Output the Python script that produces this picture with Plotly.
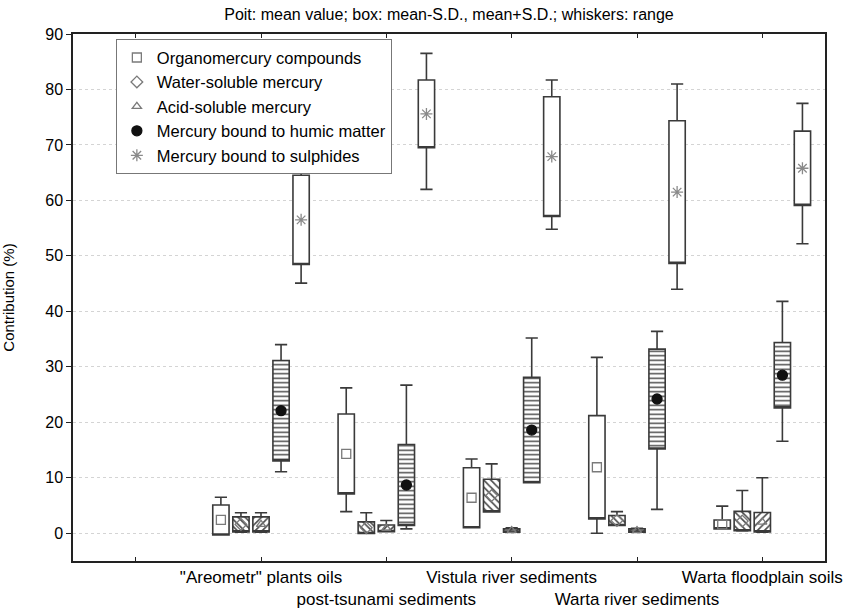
import plotly.graph_objects as go

categories = ['"Areometr" plants oils', 'post-tsunami sediments', 'Vistula river sediments',
              'Warta river sediments', 'Warta floodplain soils']
series_names = ['Organomercury compounds', 'Water-soluble mercury', 'Acid-soluble mercury',
                'Mercury bound to humic matter', 'Mercury bound to sulphides']

# mean, standard deviation, min, max (%) per category
organo_mean = [2.4, 14.3, 6.4, 11.9, 1.6]
organo_sd = [2.7, 7.2, 5.4, 9.3, 0.8]
organo_min = [0.0, 3.9, 1.0, 0.0, 0.8]
organo_max = [6.5, 26.2, 13.4, 31.7, 4.9]

water_mean = [1.6, 1.0, 6.8, 2.3, 2.2]
water_sd = [1.35, 1.05, 2.95, 0.9, 1.75]
water_min = [0.2, 0.0, 3.9, 1.4, 0.4]
water_max = [3.7, 3.7, 12.5, 3.9, 7.7]

acid_mean = [1.6, 0.9, 0.5, 0.5, 2.0]
acid_sd = [1.35, 0.6, 0.3, 0.3, 1.75]
acid_min = [0.2, 0.3, 0.2, 0.2, 0.2]
acid_max = [3.7, 2.3, 1.0, 0.9, 10.0]

humic_mean = [22.1, 8.7, 18.6, 24.2, 28.5]
humic_sd = [9.05, 7.3, 9.5, 9.0, 5.9]
humic_min = [11.1, 0.8, 9.1, 4.3, 16.6]
humic_max = [34.0, 26.7, 35.2, 36.4, 41.8]

sulph_mean = [56.5, 75.6, 67.9, 61.5, 65.8]
sulph_sd = [8.05, 6.1, 10.8, 12.85, 6.7]
sulph_min = [45.1, 62.0, 54.8, 44.0, 52.2]
sulph_max = [66.7, 86.5, 81.7, 81.0, 77.5]

y_ticks = [0, 10, 20, 30, 40, 50, 60, 70, 80, 90]

stats = [
    (organo_mean, organo_sd, organo_min, organo_max),
    (water_mean, water_sd, water_min, water_max),
    (acid_mean, acid_sd, acid_min, acid_max),
    (humic_mean, humic_sd, humic_min, humic_max),
    (sulph_mean, sulph_sd, sulph_min, sulph_max),
]

styles = [
    dict(symbol='square-open', color='#7a7a7a', size=9, pattern=None),
    dict(symbol='diamond-open', color='#7a7a7a', size=9, pattern='\\'),
    dict(symbol='triangle-up-open', color='#7a7a7a', size=8, pattern='/'),
    dict(symbol='circle', color='#111111', size=10, pattern='-'),
    dict(symbol='asterisk-open', color='#8a8a8a', size=10, pattern=None),
]

offsets = [-0.32, -0.16, 0.0, 0.16, 0.32]
box_w = 0.13
line_col = '#3a3a3a'

fig = go.Figure()

# hatched fills (under the box outlines)
for k, (mean, sd, mn, mx) in enumerate(stats):
    st = styles[k]
    if st['pattern'] is None:
        continue
    xs = [i + 1 + offsets[k] for i in range(len(categories))]
    fig.add_trace(go.Bar(
        x=xs, base=[m - s for m, s in zip(mean, sd)], y=[2 * s for s in sd],
        width=box_w, showlegend=False, hoverinfo='skip',
        marker=dict(color='white', line=dict(width=0),
                    pattern=dict(shape=st['pattern'], fgcolor='#4a4a4a', bgcolor='white',
                                 size=4.5 if st['pattern'] == '-' else 5,
                                 solidity=0.33, fillmode='replace')),
    ))

# box outlines and whiskers
for k, (mean, sd, mn, mx) in enumerate(stats):
    st = styles[k]
    xs = [i + 1 + offsets[k] for i in range(len(categories))]
    q1 = [m - s for m, s in zip(mean, sd)]
    q3 = [m + s for m, s in zip(mean, sd)]
    lo = [min(a, b) for a, b in zip(mn, q1)]
    hi = [max(a, b) for a, b in zip(mx, q3)]
    fig.add_trace(go.Box(
        x=xs, q1=q1, median=q1, q3=q3, lowerfence=lo, upperfence=hi,
        width=box_w, whiskerwidth=0.75, boxpoints=False, showlegend=False,
        line=dict(color=line_col, width=1.6),
        fillcolor='white' if st['pattern'] is None else 'rgba(0,0,0,0)',
        hoverinfo='skip',
    ))

# mean points (legend entries)
for k, (mean, sd, mn, mx) in enumerate(stats):
    st = styles[k]
    xs = [i + 1 + offsets[k] for i in range(len(categories))]
    fig.add_trace(go.Scatter(
        x=xs, y=mean, mode='markers', name=series_names[k],
        marker=dict(symbol=st['symbol'], color=st['color'], size=st['size'],
                    line=dict(color=st['color'], width=1.3)),
    ))

tickvals = [0] + [i + 1 for i in range(len(categories))]
ticktext = [''] + [c if i % 2 == 0 else '<br>' + c for i, c in enumerate(categories)]

fig.update_layout(
    width=859, height=611,
    margin=dict(l=73, r=34, t=34, b=50),
    paper_bgcolor='white', plot_bgcolor='white',
    font=dict(family='Liberation Sans, Arial, sans-serif', color='black'),
    barmode='overlay', boxmode='overlay',
    title=dict(text='Poit: mean value; box: mean-S.D., mean+S.D.; whiskers: range',
               x=0.5, xref='paper', y=1 - 14 / 611, yref='container', yanchor='middle',
               font=dict(size=16)),
    legend=dict(x=0.057, y=0.99, xanchor='left', yanchor='top',
                bgcolor='white', bordercolor='#777777', borderwidth=1,
                font=dict(size=16.5), tracegroupgap=0, itemwidth=30),
    xaxis=dict(range=[-0.5, 5.5], tickvals=tickvals, ticktext=ticktext, tickangle=0,
               ticks='inside', ticklen=4, tickcolor='#222', showgrid=False,
               showline=True, linecolor='#222', linewidth=1.5, mirror='ticks',
               zeroline=False, tickfont=dict(size=17), automargin=False),
    yaxis=dict(range=[-5, 90], tickvals=y_ticks, ticks='outside', ticklen=5,
               tickcolor='#222', showgrid=True, gridcolor='#d4d4d4', griddash='dot',
               showline=True, linecolor='#222', linewidth=1.5, mirror=True,
               zeroline=False, tickfont=dict(size=16), automargin=False,
               title=dict(text='Contribution (%)', font=dict(size=15), standoff=30)),
)

fig.write_html('out.html', config={'displayModeBar': False},
               post_script="document.body.style.margin='0';")
